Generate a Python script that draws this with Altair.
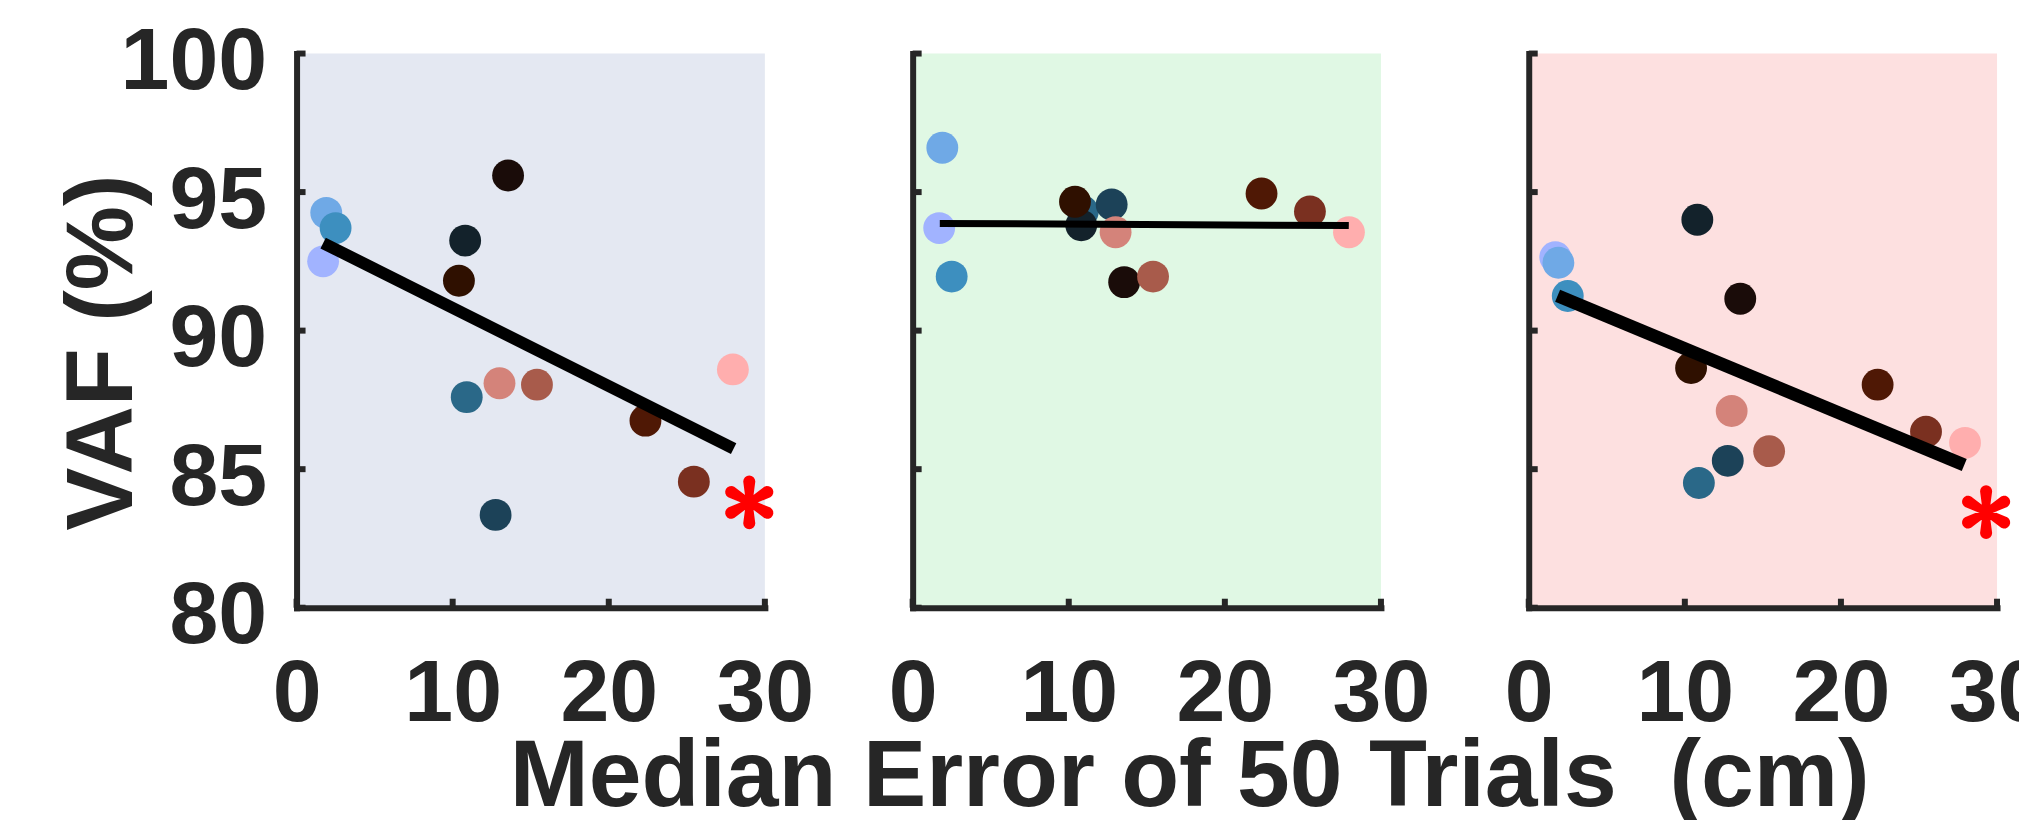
import math
import altair as alt
import pandas as pd

# ---------------- data ----------------
names = ["S1", "S2", "S3", "S4", "S5", "S6", "S7",
         "S8", "S9", "S10", "S11", "S12", "S13"]
colors = ["#a1b3ff", "#6fa9e6", "#3d8fbf", "#2a6888", "#13222b", "#2f1000",
          "#1c4258", "#d4837a", "#1a0c09", "#a85b4b", "#4f1805", "#7a3020",
          "#ffaeae"]
median_err = [1.7, 1.9, 2.5, 10.9, 10.8, 10.4, 12.75, 13.0, 13.55, 15.4,
              22.35, 25.45, 27.95]

vaf_panel1 = [92.5, 94.25, 93.7, 87.6, 93.25, 91.8, 83.35, 88.1, 95.6, 88.05,
              86.75, 84.55, 88.6]
vaf_panel2 = [93.7, 96.6, 91.95, 94.3, 93.8, 94.65, 94.55, 93.55, 91.75,
              91.95, 94.95, 94.3, 93.55]
vaf_panel3 = [92.65, 92.45, 91.25, 84.5, 94.0, 88.65, 85.3, 87.1, 91.15,
              85.65, 88.05, 86.35, 85.95]
vaf_panels = [vaf_panel1, vaf_panel2, vaf_panel3]

fit_x_start = [1.7, 1.74, 1.85]
fit_x_end = [28.0, 27.94, 27.9]
fit_y_start = [93.16, 93.87, 91.26]
fit_y_end = [85.74, 93.79, 85.15]

star_x = [29.0, None, 29.3]
star_y = [83.8, None, 83.45]

x_ticks = [0, 10, 20, 30]
y_ticks = [80, 85, 90, 95, 100]

y_title = "VAF (%)"
x_title = "Median Error of 50 Trials\u00a0 (cm)"

# ---------------- styling ----------------
INK = "#262626"
FONT = "Liberation Sans"
backgrounds = ["#e4e8f2", "#e0f8e4", "#fde0e0"]
line_widths = [12, 7, 13]
W, H = 469, 555


def star_path():
    parts = []
    for ang in [90, 30, -30, -90, -150, 150]:
        a = math.radians(ang)
        ux, uy = math.cos(a), -math.sin(a)
        px, py = -uy, ux
        arm = [(-0.12 * px, -0.12 * py)]
        tip_c, r = 0.76, 0.22
        arm.append((ux * tip_c - r * px, uy * tip_c - r * py))
        for k in range(1, 8):
            t = math.pi * k / 8
            cx = ux * tip_c + ux * r * math.sin(t) - px * r * math.cos(t)
            cy = uy * tip_c + uy * r * math.sin(t) - py * r * math.cos(t)
            arm.append((cx, cy))
        arm.append((ux * tip_c + r * px, uy * tip_c + r * py))
        arm.append((0.12 * px, 0.12 * py))
        parts.append("M" + " L".join(f"{x:.3f},{y:.3f}" for x, y in arm) + " Z")
    return " ".join(parts)


STAR = star_path()


def panel(i):
    xscale = alt.Scale(domain=[0, 30], nice=False, zero=False)
    yscale = alt.Scale(domain=[80, 100], nice=False, zero=False)

    xaxis_kw = dict(values=x_ticks, ticks=False, tickSize=0, grid=False,
                    domainWidth=6, domainColor=INK, domainCap="square",
                    labelFontSize=88, labelFont=FONT, labelFontWeight="bold",
                    labelColor=INK, labelPadding=43, labelAngle=0,
                    labelFlush=False, labelOverlap=False)
    if i == 1:
        xaxis = alt.Axis(title=x_title, titleFontSize=95, titleFont=FONT,
                         titleFontWeight="bold", titleColor=INK, titleX=277,
                         titleY=198, titleAlign="center",
                         titleBaseline="alphabetic", **xaxis_kw)
    else:
        xaxis = alt.Axis(title=None, **xaxis_kw)

    yaxis_kw = dict(values=y_ticks, ticks=False, tickSize=0, grid=False,
                    domainWidth=6, domainColor=INK, domainCap="square",
                    labelOverlap=False)
    if i == 0:
        yaxis = alt.Axis(title=y_title, labels=True, labelFontSize=88,
                         labelFont=FONT, labelFontWeight="bold",
                         labelColor=INK, labelPadding=30, labelOffset=9,
                         titleFontSize=95, titleFont=FONT,
                         titleFontWeight="bold", titleColor=INK,
                         titleX=-165, titleY=299, titleAngle=270,
                         titleAlign="center", titleBaseline="alphabetic",
                         **yaxis_kw)
    else:
        yaxis = alt.Axis(title=None, labels=False, **yaxis_kw)

    def X(field):
        return alt.X(field, scale=xscale, axis=xaxis)

    def Y(field):
        return alt.Y(field, scale=yscale, axis=yaxis)

    pdf = pd.DataFrame({"name": names, "err": median_err,
                        "vaf": vaf_panels[i], "idx": list(range(len(names)))})
    points = alt.Chart(pdf).mark_circle(size=1018, opacity=1).encode(
        x=X("err:Q"), y=Y("vaf:Q"),
        color=alt.Color("name:N", scale=alt.Scale(domain=names, range=colors),
                        legend=None),
        order=alt.Order("idx:Q"),
    )

    ldf = pd.DataFrame({"err": [fit_x_start[i], fit_x_end[i]],
                        "vaf": [fit_y_start[i], fit_y_end[i]]})
    line = alt.Chart(ldf).mark_line(color="black", strokeWidth=line_widths[i],
                                    strokeCap="butt").encode(
        x=X("err:Q"), y=Y("vaf:Q"),
    )

    ytdf = pd.DataFrame({"err": [0.0] * len(y_ticks), "vaf": y_ticks})
    ytk = alt.Chart(ytdf).mark_rule(color=INK, strokeWidth=6).encode(
        y=Y("vaf:Q"), x=alt.value(0), x2=alt.value(9),
    )
    xtdf = pd.DataFrame({"err": x_ticks, "vaf": [80.0] * len(x_ticks)})
    xtk = alt.Chart(xtdf).mark_rule(color=INK, strokeWidth=6).encode(
        x=X("err:Q"), y=alt.value(H), y2=alt.value(H - 9),
    )

    layers = [points, line, ytk, xtk]
    if star_x[i] is not None:
        sdf = pd.DataFrame({"err": [star_x[i]], "vaf": [star_y[i]]})
        star = alt.Chart(sdf).mark_point(shape=STAR, filled=True, size=3025,
                                         color="#ff0000", opacity=1,
                                         strokeWidth=0).encode(
            x=X("err:Q"), y=Y("vaf:Q"),
        )
        layers.append(star)

    return alt.layer(*layers).properties(
        width=W, height=H,
        view=alt.ViewBackground(fill=backgrounds[i], stroke="transparent"),
    )


chart = alt.hconcat(panel(0), panel(1), panel(2), spacing=148,
                    bounds="flush").properties(
    padding={"left": 48, "top": 10, "right": -27, "bottom": -5},
    background="white",
).configure_view(strokeWidth=0)

chart.save("out.html", embed_options={"renderer": "svg", "actions": False})
